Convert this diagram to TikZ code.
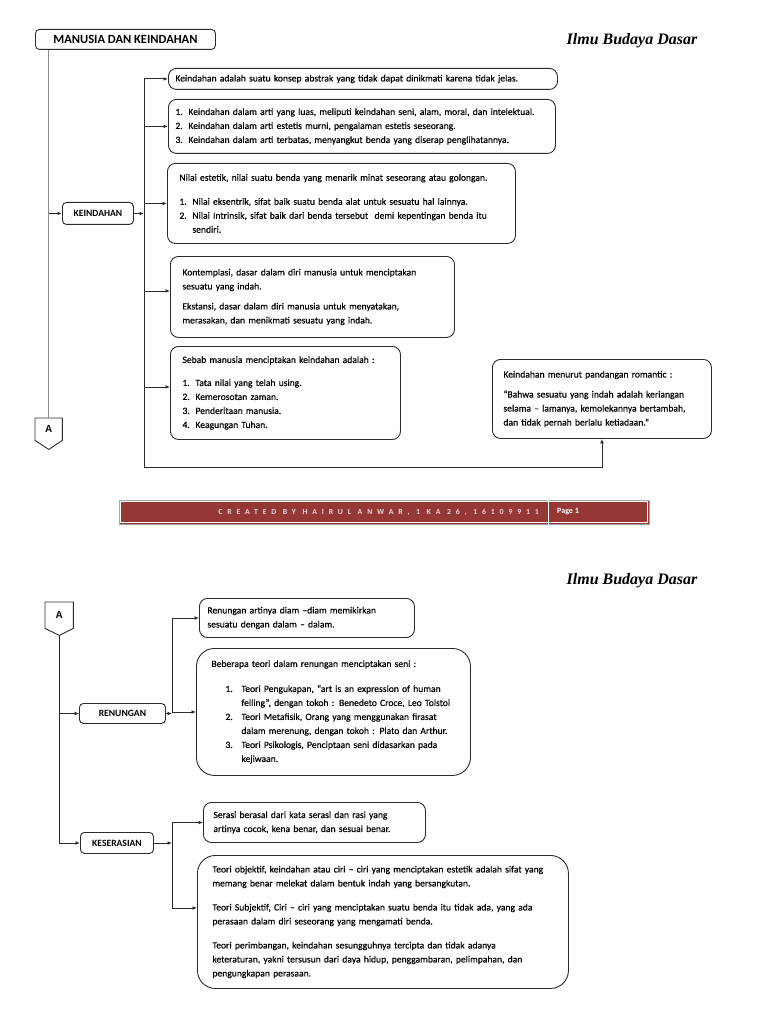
\documentclass[tikz,border=0pt]{standalone}
\usepackage{fontspec}
\setmainfont{Carlito}
\newfontfamily\bodyfont{Carlito}[FakeBold=0.35]
\newfontfamily\brushfont{Liberation Serif}
\usetikzlibrary{positioning, arrows.meta}
\definecolor{ink}{HTML}{2B2B2B}
\definecolor{trunkgray}{HTML}{8C8C8C}
\definecolor{footred}{HTML}{953735}
\definecolor{footink}{HTML}{E8DADA}
\newcommand{\lnum}[2][13pt]{\makebox[#1][l]{#2}}
\tikzset{
  head/.style    = {rectangle, rounded corners=4pt, draw=ink, line width=0.9pt,
                    anchor=north west, align=center, inner sep=0pt,
                    font=\fontsize{12.5}{14}\selectfont\bfseries},
  topic/.style   = {rectangle, rounded corners=4pt, draw=ink, line width=0.9pt,
                    anchor=north west, align=center, inner sep=0pt,
                    font=\fontsize{9.6}{11}\selectfont\bfseries},
  note/.style    = {rectangle, rounded corners=8pt, draw=ink, line width=0.9pt,
                    anchor=north west, align=left, inner ysep=0pt,
                    font=\bodyfont\fontsize{9.6}{14}\selectfont},
  bignote/.style = {note, rounded corners=18pt},
  offpage/.style = {rectangle, anchor=north west, inner sep=0pt,
                    font=\fontsize{11}{12}\selectfont\bfseries},
  shapeline/.style = {draw=ink, line width=0.9pt, line join=round},
  brand/.style   = {font=\brushfont\fontsize{16}{16}\selectfont\bfseries\itshape},
  ar/.style      = {-{Latex[length=4.5pt,width=3.8pt]}, line width=0.9pt, draw=ink},
  ln/.style      = {line width=0.9pt, draw=ink},
  trunk/.style   = {line width=0.9pt, draw=trunkgray},
  footbar/.style = {rectangle, anchor=north west, draw=gray!70, line width=0.6pt,
                    fill=footred, inner sep=0pt},
  foottext/.style = {text=footink, inner sep=0pt,
                     font=\fontsize{7.8}{8}\selectfont\bfseries\addfontfeature{LetterSpace=62}},
  pagetext/.style = {text=white, inner sep=0pt, font=\fontsize{8}{9}\selectfont\bfseries},
}

\begin{document}
\begin{tikzpicture}[x=1pt, y=-1pt]
  \useasboundingbox (0,0) rectangle (768,1024);

  % ---- page 1
  \node[head, minimum width=180pt, minimum height=20pt] (title) at (35,29) {MANUSIA DAN KEINDAHAN};
  \node[brand] (brandone) at (632,41) {Ilmu Budaya Dasar};

  \node[topic, minimum width=71pt, minimum height=22pt] (kei) at (62,202) {KEINDAHAN};
  \node[offpage, minimum width=27pt, minimum height=22pt] (aone) at (35,418) {A};

  \node[note, inner xsep=7pt, text width=375pt, minimum height=21pt] (kone) at (168,68)
       {Keindahan adalah suatu konsep abstrak yang tidak dapat dinikmati karena tidak jelas.};
  \node[note, inner xsep=7pt, text width=373pt, minimum height=54pt] (ktwo) at (168,99)
       {\lnum{1.}Keindahan dalam arti yang luas, meliputi keindahan seni, alam, moral, dan intelektual.\\
        \lnum{2.}Keindahan dalam arti estetis murni, pengalaman estetis seseorang.\\
        \lnum{3.}Keindahan dalam arti terbatas, menyangkut benda yang diserap penglihatannya.};
  \node[note, inner xsep=12pt, text width=324pt, minimum height=80pt] (kthree) at (167,163)
       {Nilai estetik, nilai suatu benda yang menarik minat seseorang atau golongan.\\[10pt]
        \lnum{1.}Nilai eksentrik, sifat baik suatu benda alat untuk sesuatu hal lainnya.\\
        \lnum{2.}Nilai Intrinsik, sifat baik dari benda tersebut\ \ demi kepentingan benda itu\\
        \hspace*{13pt}sendiri.};
  \node[note, inner xsep=12pt, text width=260pt, minimum height=81pt] (kfour) at (170,256)
       {Kontemplasi, dasar dalam diri manusia untuk menciptakan\\
        sesuatu yang indah.\\[6pt]
        Ekstansi, dasar dalam diri manusia untuk menyatakan,\\
        merasakan, dan menikmati sesuatu yang indah.};
  \node[note, inner xsep=12pt, text width=206pt, minimum height=93pt] (kfive) at (170,346)
       {Sebab manusia menciptakan keindahan adalah :\\[9pt]
        \lnum{1.}Tata nilai yang telah using.\\
        \lnum{2.}Kemerosotan zaman.\\
        \lnum{3.}Penderitaan manusia.\\
        \lnum{4.}Keagungan Tuhan.};
  \node[note, inner xsep=11pt, text width=197pt, minimum height=79pt] (krom) at (492,359)
       {Keindahan menurut pandangan romantic :\\[6pt]
        “Bahwa sesuatu yang indah adalah keriangan\\
        selama – lamanya, kemolekannya bertambah,\\
        dan tidak pernah berlalu ketiadaan.”};

  \draw[shapeline] (aone.north west) -- (aone.north east) -- (aone.south east)
    -- ([yshift=-9pt]aone.south) -- (aone.south west) -- cycle;

  \coordinate (busone) at (144,0);
  \coordinate (baseone) at (0,467);
  \coordinate (kfourin) at ([yshift=6pt]kfour.west);
  \coordinate (kfivein) at ([yshift=6pt]kfive.west);

  \draw[trunk] (aone.north |- title.south) -- (aone.north);
  \draw[ar] (aone.north |- kei.west) -- (kei.west);
  \draw[ar] (kei.east) -- (kei.east -| busone);
  \draw[ar] (busone |- kone.west) -- (busone |- baseone) -| (krom.south);
  \foreach \b in {kone, ktwo, kthree, kfourin, kfivein}
    \draw[ar] (busone |- \b) -- (\b);

  % footer
  \node[footbar, minimum width=530pt, minimum height=24pt] (foot) at (119,500) {};
  \draw[white, line width=1pt] ([shift={(1.8pt,-1.8pt)}]foot.north west)
    rectangle ([shift={(-1.8pt,1.8pt)}]foot.south east);
  \coordinate (split) at (548,512);
  \draw[white, line width=1pt] (split |- foot.north) -- (split |- foot.south);
  \node[foottext, anchor=east] (credit) at (539,512) {CREATED BY HAIRUL ANWAR, 1 KA 26, 16109911};
  \node[pagetext, anchor=west] (pagenum) at (557,512) {Page 1};

  % ---- page 2
  \node[brand] (brandtwo) at (632,581) {Ilmu Budaya Dasar};
  \node[offpage, minimum width=28pt, minimum height=26pt] (atwo) at (45,602) {A};
  \draw[shapeline] (atwo.north west) -- (atwo.north east) -- (atwo.south east)
    -- ([yshift=-7pt]atwo.south) -- (atwo.south west) -- cycle;

  \node[topic, minimum width=86pt, minimum height=20pt] (ren) at (79,703) {RENUNGAN};
  \node[topic, minimum width=73pt, minimum height=21pt] (kes) at (80,832) {KESERASIAN};

  \node[note, inner xsep=8pt, text width=199pt, minimum height=39pt] (rone) at (199,598)
       {Renungan artinya diam –diam memikirkan\\
        sesuatu dengan dalam – dalam.};
  \node[bignote, inner xsep=15pt, text width=244pt, minimum height=127pt] (rtwo) at (196,648)
       {Beberapa teori dalam renungan menciptakan seni :\\[11pt]
        \hspace*{14pt}\lnum[16pt]{1.}Teori Pengukapan, “art is an expression of human\\
        \hspace*{30pt}felling”, dengan tokoh : Benedeto Croce, Leo Tolstoi\\
        \hspace*{14pt}\lnum[16pt]{2.}Teori Metafisik, Orang yang menggunakan firasat\\
        \hspace*{30pt}dalam merenung, dengan tokoh : Plato dan Arthur.\\
        \hspace*{14pt}\lnum[16pt]{3.}Teori Psikologis, Penciptaan seni didasarkan pada\\
        \hspace*{30pt}kejiwaan.};
  \node[note, inner xsep=10pt, text width=202pt, minimum height=40pt] (sone) at (203,802)
       {Serasi berasal dari kata serasi dan rasi yang\\
        artinya cocok, kena benar, dan sesuai benar.};
  \node[bignote, inner xsep=15pt, text width=341pt, minimum height=133pt] (stwo) at (197,855)
       {Teori objektif, keindahan atau ciri – ciri yang menciptakan estetik adalah sifat yang\\
        memang benar melekat dalam bentuk indah yang bersangkutan.\\[10pt]
        Teori Subjektif, Ciri – ciri yang menciptakan suatu benda itu tidak ada, yang ada\\
        perasaan dalam diri seseorang yang mengamati benda.\\[10pt]
        Teori perimbangan, keindahan sesungguhnya tercipta dan tidak adanya\\
        keteraturan, yakni tersusun dari daya hidup, penggambaran, pelimpahan, dan\\
        pengungkapan perasaan.};

  \coordinate (atip) at ([yshift=-7pt]atwo.south);
  \coordinate (bustwo) at (172,0);
  \coordinate (stwoin) at ([yshift=14pt]stwo.west);

  \draw[ar] (atip) |- (kes.west);
  \draw[ar] (atip |- ren.west) -- (ren.west);
  \draw[ar] (ren.east) -- (ren.east -| bustwo);
  \draw[ln] (bustwo |- rone.west) -- (bustwo |- rtwo.west);
  \draw[ar] (bustwo |- rone.west) -- (rone.west);
  \draw[ar] (bustwo |- rtwo.west) -- (rtwo.west);
  \draw[ar] (kes.east) -- (kes.east -| bustwo);
  \draw[ln] (bustwo |- sone.west) -- (bustwo |- stwoin);
  \draw[ar] (bustwo |- sone.west) -- (sone.west);
  \draw[ar] (bustwo |- stwoin) -- (stwoin);

\end{tikzpicture}
\end{document}
